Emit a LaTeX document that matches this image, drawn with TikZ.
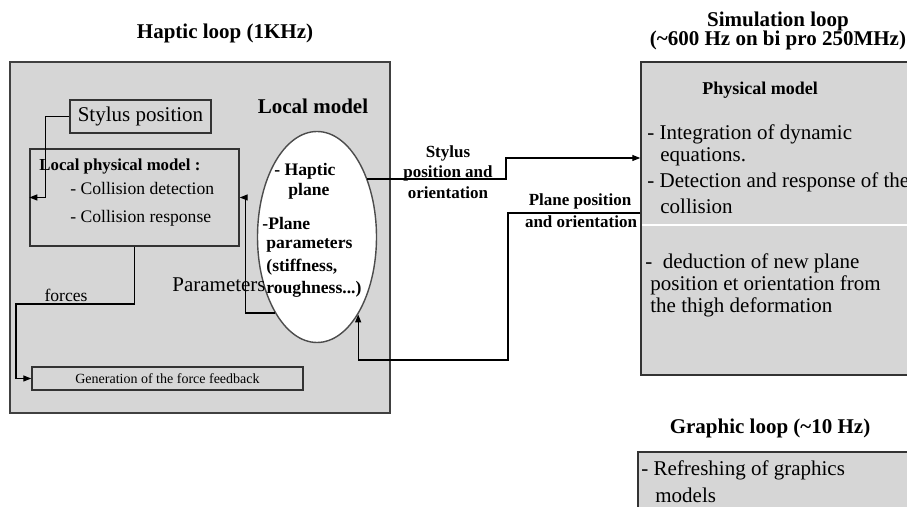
\documentclass[tikz,border=0pt]{standalone}
\usepackage{fontspec}
\setmainfont{Liberation Serif}
\usetikzlibrary{shapes.geometric, arrows.meta}

\tikzset{
  panel/.style={draw=black!75, fill=black!16, line width=0.8pt, inner sep=0pt},
  box/.style={draw=black!80, fill=black!16, line width=0.7pt, inner sep=0pt},
  link/.style={draw=black, line width=0.6pt, -{Triangle[length=4pt,width=3pt]}},
  hdr/.style={font=\fontsize{10.5}{12}\selectfont\bfseries, inner sep=0pt},
  big/.style={font=\fontsize{10.5}{12}\selectfont, inner sep=0pt},
  lbl/.style={font=\fontsize{8.5}{10.25}\selectfont\bfseries, inner sep=0pt},
  ell/.style={font=\fontsize{8.8}{10}\selectfont\bfseries, inner sep=0pt, anchor=west},
  txt/.style={font=\fontsize{8.8}{10}\selectfont, inner sep=0pt, anchor=west},
  simtxt/.style={font=\fontsize{10.5}{12}\selectfont, inner sep=0pt, anchor=west}
}

\begin{document}
\begin{tikzpicture}[x=0.5pt, y=-0.5pt]
\useasboundingbox (0,0) rectangle (907,507);
\clip (0,0) rectangle (907,507);

% haptic loop
\node (hapticTitle) [hdr] at (225,33) {Haptic loop (1KHz)};
\node (haptic) [panel, minimum width=190pt, minimum height=175.5pt] at (200,237.5) {};
\node (localTitle) [hdr] at (313,106) {Local model};

\node (stylus) [box, minimum width=70.5pt, minimum height=16.5pt, big] at (140.5,116.5) {Stylus position};

\node (lpm) [box, minimum width=104.5pt, minimum height=48.5pt] at (134.5,197.5) {};
\node (lpmTitle) [txt, font=\fontsize{8.4}{10}\selectfont\bfseries] at (39,166) {Local physical model :};
\node (lpmDet) [txt] at (70,188) {- Collision detection};
\node (lpmResp) [txt] at (70,218) {- Collision response};

\node (plane) [ellipse, draw=black!70, fill=white, line width=0.7pt, minimum width=59.5pt, minimum height=105.5pt, inner sep=0pt] at (317,237) {};
\node (pl1) [ell] at (274,171) {- Haptic};
\node (pl2) [ell] at (288,191) {plane};
\node (pl3) [ell] at (262,223) {-Plane};
\node (pl4) [ell] at (266,245) {parameters};
\node (pl5) [ell] at (266,267) {(stiffness,};
\node (pl6) [ell] at (266,289) {roughness...)};

\node (gen) [box, minimum width=135.5pt, minimum height=11.5pt, font=\fontsize{7}{8}\selectfont] at (167.5,378.5) {Generation of the force feedback};

\node (paramLbl) [big] at (219,285) {Parameters};
\node (forceLbl) [txt, anchor=center] at (66,295) {forces};

% simulation loop
\node (simTitle) [hdr] at (778,21) {Simulation loop};
\node (simRate) [hdr] at (778,40) {(\textasciitilde600 Hz on bi pro 250MHz)};
\node (sim) [box, minimum width=142pt, minimum height=156.5pt] at (783,218.5) {};
\draw[white, line width=1pt] (642,225) -- (925,225);
\node (simHead) [font=\fontsize{9}{10}\selectfont\bfseries, inner sep=0pt] at (760,90) {Physical model};
\node (sim1) [simtxt] at (647,134) {- Integration of dynamic};
\node (sim2) [simtxt] at (660,157) {equations.};
\node (sim3) [simtxt] at (647,182) {- Detection and response of the};
\node (sim4) [simtxt] at (660,206) {collision};
\node (sim5) [simtxt] at (645,263) {- \ deduction of new plane};
\node (sim6) [simtxt] at (650,285) {position et orientation from};
\node (sim7) [simtxt] at (650,307) {the thigh deformation};

% graphic loop
\node (gfxTitle) [hdr] at (770,428) {Graphic loop (\textasciitilde10 Hz)};
\node (gfx) [box, minimum width=143.5pt, minimum height=39pt] at (781.5,491) {};
\node (gfx1) [simtxt] at (641,470) {- Refreshing of graphics};
\node (gfx2) [simtxt] at (655,495) {models};

% connectors
\draw[link] (stylus.west) -- ++(-24,0) |- (lpm.west);
\draw[link] (plane.241) -| ([xshift=3pt]lpm.east) -- (lpm.east);
\coordinate (fbend) at (16,304);
\draw[link] (lpm.south) |- (fbend) |- (gen.west);

\coordinate (sbend) at (506,158);
\draw[link] (plane.49) -| (sbend) -- (sim.west |- sbend);
\node (stylusLbl) [lbl, align=center] at (448,172) {Stylus\\position and\\orientation};

\coordinate (rtop) at (508,213);
\coordinate (rlow) at (508,360);
\draw[link] (sim.west |- rtop) -- (rtop) -- (rlow) -| (plane.298);
\node (planeLbl1) [lbl] at (580,201) {Plane position};
\node (planeLbl2) [lbl] at (581,222) {and orientation};
\end{tikzpicture}
\end{document}
